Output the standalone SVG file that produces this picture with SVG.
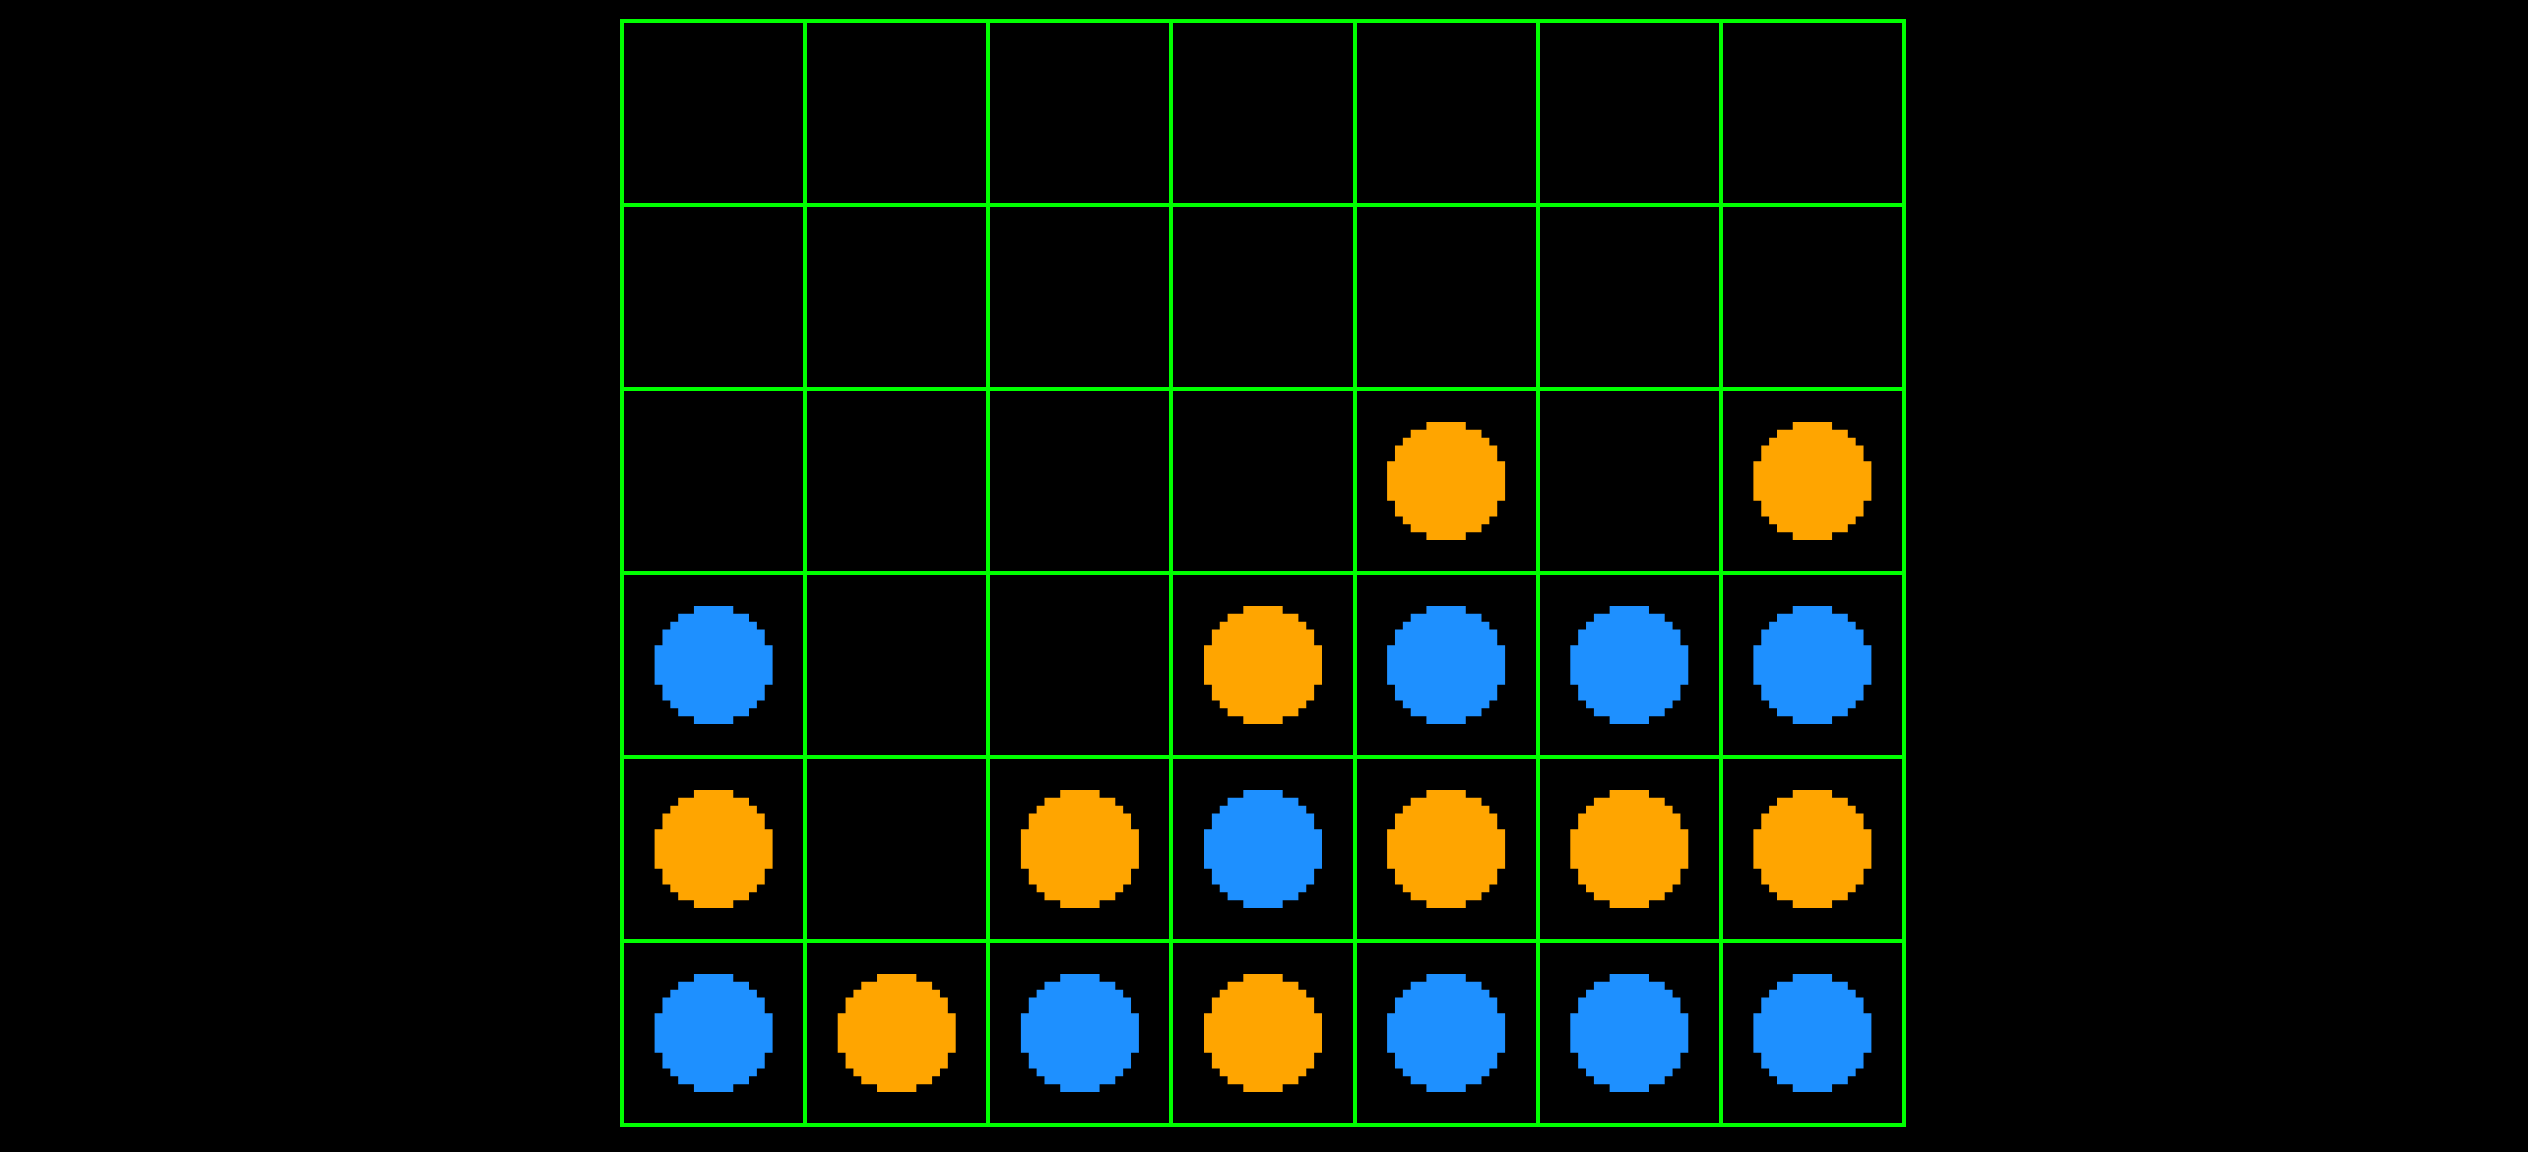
<svg xmlns="http://www.w3.org/2000/svg" xmlns:xlink="http://www.w3.org/1999/xlink" width="2528" height="1152" viewBox="0 0 2528 1152">
<style>
.grid line{stroke:#00FF00;stroke-width:4;shape-rendering:crispEdges}
.b{fill:#1E90FF}
.o{fill:#FFA500}
</style>
<defs>
<path id="disc" d="M-19.67,-59 H19.67 V-51.13 H35.4 V-43.27 H43.27 V-35.4 H51.13 V-19.67 H59 V19.67 H51.13 V35.4 H43.27 V43.27 H35.4 V51.13 H19.67 V59 H-19.67 V51.13 H-35.4 V43.27 H-43.27 V35.4 H-51.13 V19.67 H-59 V-19.67 H-51.13 V-35.4 H-43.27 V-43.27 H-35.4 V-51.13 H-19.67 Z"/>
</defs>
<rect width="2528" height="1152" fill="#000000"/>
<g id="grid" class="grid">
<line x1="622" y1="19" x2="622" y2="1127"/>
<line x1="805.1" y1="19" x2="805.1" y2="1127"/>
<line x1="988.3" y1="19" x2="988.3" y2="1127"/>
<line x1="1171.4" y1="19" x2="1171.4" y2="1127"/>
<line x1="1354.6" y1="19" x2="1354.6" y2="1127"/>
<line x1="1537.7" y1="19" x2="1537.7" y2="1127"/>
<line x1="1720.9" y1="19" x2="1720.9" y2="1127"/>
<line x1="1904" y1="19" x2="1904" y2="1127"/>
<line x1="620" y1="21" x2="1906" y2="21"/>
<line x1="620" y1="205" x2="1906" y2="205"/>
<line x1="620" y1="389" x2="1906" y2="389"/>
<line x1="620" y1="573" x2="1906" y2="573"/>
<line x1="620" y1="757" x2="1906" y2="757"/>
<line x1="620" y1="941" x2="1906" y2="941"/>
<line x1="620" y1="1125" x2="1906" y2="1125"/>
</g>
<g id="discs">
<g id="r2c4"><use xlink:href="#disc" href="#disc" class="o" x="1446.1" y="481"/></g>
<g id="r2c6"><use xlink:href="#disc" href="#disc" class="o" x="1812.4" y="481"/></g>
<g id="r3c0"><use xlink:href="#disc" href="#disc" class="b" x="713.6" y="665"/></g>
<g id="r3c3"><use xlink:href="#disc" href="#disc" class="o" x="1263" y="665"/></g>
<g id="r3c4"><use xlink:href="#disc" href="#disc" class="b" x="1446.1" y="665"/></g>
<g id="r3c5"><use xlink:href="#disc" href="#disc" class="b" x="1629.3" y="665"/></g>
<g id="r3c6"><use xlink:href="#disc" href="#disc" class="b" x="1812.4" y="665"/></g>
<g id="r4c0"><use xlink:href="#disc" href="#disc" class="o" x="713.6" y="849"/></g>
<g id="r4c2"><use xlink:href="#disc" href="#disc" class="o" x="1079.9" y="849"/></g>
<g id="r4c3"><use xlink:href="#disc" href="#disc" class="b" x="1263" y="849"/></g>
<g id="r4c4"><use xlink:href="#disc" href="#disc" class="o" x="1446.1" y="849"/></g>
<g id="r4c5"><use xlink:href="#disc" href="#disc" class="o" x="1629.3" y="849"/></g>
<g id="r4c6"><use xlink:href="#disc" href="#disc" class="o" x="1812.4" y="849"/></g>
<g id="r5c0"><use xlink:href="#disc" href="#disc" class="b" x="713.6" y="1033"/></g>
<g id="r5c1"><use xlink:href="#disc" href="#disc" class="o" x="896.7" y="1033"/></g>
<g id="r5c2"><use xlink:href="#disc" href="#disc" class="b" x="1079.9" y="1033"/></g>
<g id="r5c3"><use xlink:href="#disc" href="#disc" class="o" x="1263" y="1033"/></g>
<g id="r5c4"><use xlink:href="#disc" href="#disc" class="b" x="1446.1" y="1033"/></g>
<g id="r5c5"><use xlink:href="#disc" href="#disc" class="b" x="1629.3" y="1033"/></g>
<g id="r5c6"><use xlink:href="#disc" href="#disc" class="b" x="1812.4" y="1033"/></g>
</g>
</svg>
